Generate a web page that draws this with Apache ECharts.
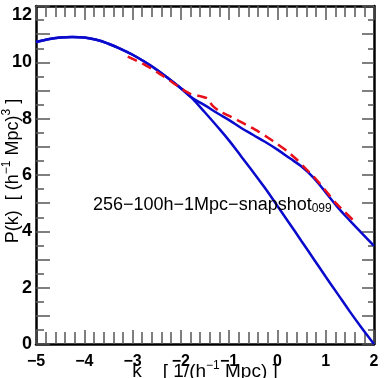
<!DOCTYPE html>
<html><head><meta charset="utf-8">
<script src="https://cdn.jsdelivr.net/npm/echarts@6/dist/echarts.min.js"></script>
<style>html,body{margin:0;padding:0;background:#fff}#c{width:386px;height:378px}</style>
</head><body><div id="c"></div>
<script>
// shared large-scale part of the two theory curves
const sharedK = [-5, -4.75, -4.5, -4.25, -4, -3.75, -3.5, -3.25, -3, -2.75, -2.5, -2.25, -2, -1.8];
const sharedP = [10.72, 10.82, 10.88, 10.9, 10.88, 10.8, 10.66, 10.48, 10.27, 10.02, 9.74, 9.42, 9.08, 8.78];
// upper blue curve (after split)
const upperK = [-1.5, -1.25, -1, -0.75, -0.5, -0.25, 0, 0.25, 0.5, 0.75, 1, 1.25, 1.5, 1.75, 2];
const upperP = [8.47, 8.2, 7.95, 7.67, 7.42, 7.17, 6.9, 6.6, 6.3, 5.9, 5.38, 4.85, 4.38, 3.93, 3.48];
// lower blue curve (after split)
const lowerK = [-1.5, -1.25, -1, -0.75, -0.5, -0.25, 0, 0.25, 0.5, 0.75, 1, 1.25, 1.5, 1.75, 2];
const lowerP = [8.22, 7.73, 7.22, 6.66, 6.1, 5.52, 4.9, 4.28, 3.65, 3.02, 2.39, 1.77, 1.15, 0.56, 0.0];
// red dashed simulation curve
const simK = [-3.1, -2.8, -2.5, -2.2, -2.0, -1.8, -1.6, -1.45, -1.35, -1.2, -1.0, -0.8, -0.6, -0.4, -0.2, 0, 0.2, 0.4, 0.6, 0.8, 1.0, 1.2, 1.4, 1.6];
const simP = [10.2, 9.96, 9.66, 9.32, 9.08, 8.88, 8.8, 8.72, 8.47, 8.26, 8.1, 7.92, 7.74, 7.55, 7.33, 7.1, 6.85, 6.55, 6.2, 5.85, 5.44, 5.02, 4.68, 4.34];
const xTickLabels = [-5, -4, -3, -2, -1, 0, 1, 2];
const yTickLabels = [0, 2, 4, 6, 8, 10, 12];
const annotation = '256−100h−1Mpc−snapshot';
const annotationSub = '099';

const F = 'Liberation Sans';
const pairs = (k, p) => k.map((v, i) => [v, p[i]]);
const upperData = pairs(sharedK.concat(upperK), sharedP.concat(upperP));
const lowerData = pairs(sharedK.concat(lowerK), sharedP.concat(lowerP));
const simData = pairs(simK, simP);

const tickStyle = {color: '#555', width: 1.5};
const lineStyleAxis = {color: '#000', width: 2.5};
const fmtX = v => xTickLabels.includes(v) ? (v < 0 ? '−' + Math.abs(v) : String(v)) : '';
const fmtY = v => yTickLabels.includes(v) ? String(v) : '';

const chart = echarts.init(document.getElementById('c'));
chart.setOption({
  animation: false,
  backgroundColor: '#fff',
  grid: {left: 36, right: 12, top: 6, bottom: 34, containLabel: false, outerBoundsMode: 'none'},
  xAxis: [{
    type: 'value', min: -5, max: 2, interval: 1, position: 'bottom',
    axisLine: {show: true, onZero: false, lineStyle: lineStyleAxis},
    axisTick: {inside: true, length: 14, lineStyle: tickStyle},
    minorTick: {show: true, splitNumber: 5, length: 12, lineStyle: tickStyle},
    splitLine: {show: false},
    axisLabel: {formatter: fmtX, fontFamily: F, fontWeight: 'bold', fontSize: 16, color: '#000', margin: 10},
    name: '{t|k    [ 1/(h}{s|−1}{t| Mpc) ]}',
    nameLocation: 'middle', nameGap: 16, nameMoveOverlap: false,
    nameTextStyle: {rich: {
      t: {fontFamily: F, fontSize: 19, color: '#000', lineHeight: 24},
      s: {fontFamily: F, fontSize: 12, color: '#000', lineHeight: 24, verticalAlign: 'top'}
    }}
  }, {
    type: 'value', min: -5, max: 2, interval: 1, position: 'top',
    axisLine: {show: true, onZero: false, lineStyle: lineStyleAxis},
    axisTick: {inside: true, length: 14, lineStyle: tickStyle},
    minorTick: {show: true, splitNumber: 5, length: 11, lineStyle: tickStyle},
    splitLine: {show: false}, axisLabel: {show: false}
  }],
  yAxis: [{
    type: 'value', min: 0, max: 12, interval: 1, position: 'left',
    axisLine: {show: true, onZero: false, lineStyle: lineStyleAxis},
    axisTick: {inside: true, length: 14, lineStyle: tickStyle},
    minorTick: {show: true, splitNumber: 2, length: 8, lineStyle: tickStyle},
    splitLine: {show: false},
    axisLabel: {formatter: fmtY, fontFamily: F, fontWeight: 'bold', fontSize: 18, color: '#000', margin: 4,
      verticalAlignMaxLabel: 'top'},
    name: '{t|P(k)  [ (h}{s|−1}{t| Mpc)}{s|3}{t| ]}',
    nameLocation: 'middle', nameGap: 11, nameRotate: 90, nameMoveOverlap: false,
    nameTextStyle: {padding: [0, 0, 0, 8], rich: {
      t: {fontFamily: F, fontSize: 18, color: '#000', lineHeight: 24},
      s: {fontFamily: F, fontSize: 12, color: '#000', lineHeight: 24, verticalAlign: 'top'}
    }}
  }, {
    type: 'value', min: 0, max: 12, interval: 1, position: 'right',
    axisLine: {show: true, onZero: false, lineStyle: lineStyleAxis},
    axisTick: {inside: true, length: 12, lineStyle: tickStyle},
    minorTick: {show: true, splitNumber: 2, length: 6, lineStyle: tickStyle},
    splitLine: {show: false}, axisLabel: {show: false}
  }],
  series: [{
    type: 'line', data: lowerData, showSymbol: false, smooth: 0.4,
    lineStyle: {color: '#0a0acd', width: 2.5}, z: 3
  }, {
    type: 'line', data: upperData, showSymbol: false, smooth: 0.4,
    lineStyle: {color: '#0a0acd', width: 2.5}, z: 3
  }, {
    type: 'line', data: simData, showSymbol: false, smooth: 0.2,
    lineStyle: {color: '#e8101a', width: 2.5, type: [10, 6]}, z: 4
  }],
  graphic: [{
    type: 'text', x: 93, y: 205, z: 10,
    style: {
      text: '{a|' + annotation + '}{b|' + annotationSub + '}',
      verticalAlign: 'middle',
      rich: {
        a: {fontFamily: F, fontSize: 18, fill: '#000', color: '#000', lineHeight: 20},
        b: {fontFamily: F, fontSize: 12, fill: '#000', color: '#000', lineHeight: 20, verticalAlign: 'bottom'}
      }
    }
  }]
});
</script></body></html>
